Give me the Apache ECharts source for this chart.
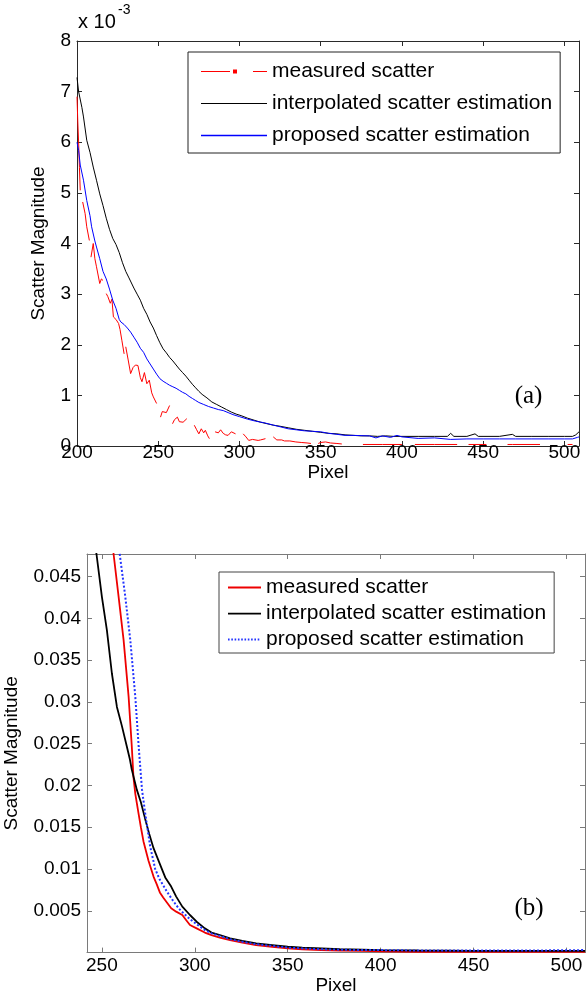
<!DOCTYPE html>
<html><head><meta charset="utf-8">
<script src="https://cdn.jsdelivr.net/npm/echarts@6.0.0/dist/echarts.min.js"></script>
<style>html,body{margin:0;padding:0;background:#fff}#c{width:588px;height:1006px}</style>
</head><body><div id="c"></div>
<script>
// ---------- Chart (a): values in units of 1e-3 ----------
const seriesNames = ['measured scatter', 'interpolated scatter estimation', 'proposed scatter estimation'];

const aMeasX = [200,200.5,201,201.5,202,202.7,203.5,205,206,207.6,208,208.6,210,211,212,214,215,216,217,218,219,220.5,221.5,222.4,224,225.6,226.5,227.6,229,229.5,230,231.5,233,234.5,236,237.5,239,240,241.5,243,244.5,246,247,249,250,251.4,252.5,253.7,255,257,258,258.8,260,261.8,263,265.3,266.5,267.6,270,272.2,273.5,275,276.5,278,279,280.5,281.5,283,285,287,288.4,290,291.5,293,295,297.6,300,302.3,304,305.7,308,311.5,313,316,318,320.8,323,326,327.7,331,334.7,338,341.6,344,346,348.5,350,353,356,360,363,370,376,388,400,404,408,420,434,437,441,452,462,465,468,485,500,502,505,510];
const aMeasY = [6.9,6.4,6.0,5.5,5.05,null,4.82,4.59,4.33,4.06,null,3.73,4.0,3.7,3.54,3.21,3.3,3.27,null,3.01,2.95,2.82,2.9,2.55,2.5,2.42,2.3,2.09,1.82,null,1.96,1.7,1.43,1.55,1.6,1.59,1.35,1.27,1.45,1.23,1.3,1.05,0.97,0.84,null,0.57,0.68,0.71,0.66,0.80,null,0.44,0.52,0.57,0.48,0.47,0.5,0.54,null,0.41,0.33,0.24,0.34,0.26,0.31,0.2,0.145,null,0.28,0.26,0.32,0.25,0.22,0.21,0.28,0.24,null,0.24,0.18,0.11,0.13,0.11,0.12,0.145,null,0.18,0.12,0.12,0.10,0.1,0.08,0.07,0.06,0.05,null,0.05,0.07,0.08,0.06,0.05,0.04,null,0.03,0.03,0.03,null,0.03,0.03,0.03,null,0.03,0.03,null,0.03,0.03,0.03,null,0.03,0.03];

const aInterpX = [200,201,203,204,206,208,210,212,214,216,218,220,222,224,226,228,230,232,233,235,237,239,241,243,245,247,249,251,253,255,257,259,261,263,265,267,269,271,273,275,277,280,283,286,289,292,295,298,301,305,309,313,317,321,325,330,335,340,345,350,355,360,365,370,375,380,385,390,395,400,410,420,428,430,432,440,445,447,460,468,470,480,490,500,505,507,509];
const aInterpY = [7.28,7.0,6.69,6.5,6.04,5.8,5.51,5.25,4.98,4.75,4.5,4.28,4.1,3.98,3.82,3.62,3.45,3.32,3.3,3.12,3.0,2.88,2.72,2.6,2.45,2.33,2.18,2.04,1.92,1.84,1.75,1.68,1.6,1.52,1.45,1.38,1.3,1.22,1.15,1.08,1.02,0.95,0.87,0.82,0.77,0.72,0.67,0.63,0.6,0.55,0.51,0.47,0.44,0.41,0.39,0.36,0.33,0.31,0.29,0.27,0.25,0.24,0.22,0.21,0.2,0.2,0.19,0.2,0.19,0.19,0.19,0.19,0.19,0.25,0.19,0.19,0.24,0.19,0.19,0.23,0.19,0.19,0.19,0.19,0.19,0.22,0.28];

const aPropX = [200,201,202,204,206,208,209,211,212,214,216,218,220,222,224,226,227,229,231,233,235,237,239,241,243,245,247,249,251,253,255,257,259,261,263,265,267,269,271,273,275,278,281,284,287,290,293,296,300,305,310,315,320,325,330,335,340,345,350,355,360,365,370,380,384,388,393,397,400,410,420,430,440,450,460,470,480,490,500,505,508,509];
const aPropY = [6.0,5.84,5.55,5.25,4.85,4.55,4.33,4.05,3.93,3.7,3.45,3.3,3.1,2.88,2.72,2.5,2.45,2.4,2.33,2.25,2.15,2.05,1.93,1.85,1.72,1.62,1.52,1.42,1.33,1.28,1.24,1.2,1.17,1.14,1.1,1.06,1.03,0.98,0.94,0.9,0.86,0.82,0.78,0.75,0.72,0.70,0.66,0.62,0.58,0.53,0.49,0.46,0.42,0.38,0.34,0.32,0.3,0.29,0.28,0.25,0.23,0.21,0.21,0.2,0.16,0.2,0.17,0.21,0.18,0.15,0.16,0.13,0.14,0.14,0.14,0.14,0.14,0.14,0.14,0.14,0.17,0.18];

// ---------- Chart (b) ----------
const bMeasX = [254.5,256.3,259,261.7,264.4,266.1,267,268,269.7,271,272.4,275.1,277.8,279.5,281.2,283,285,287.3,290,293.3,295,297.4,301,305.4,309,313.5,319,325.6,333,341.7,350,357.9,368,378,390,400,420,450,480,510];
const bMeasY = [0.052,0.0477,0.0426,0.0374,0.0306,0.0247,0.021,0.019,0.0167,0.015,0.0133,0.011,0.0091,0.0082,0.0072,0.0066,0.006,0.0053,0.0049,0.0045,0.004,0.0033,0.0029,0.0024,0.0021,0.0018,0.0015,0.0012,0.0009,0.0007,0.0005,0.0004,0.0003,0.00025,0.0002,0.00015,0.0001,0.0001,0.0001,0.0001];

const bInterpX = [244,247.1,250,252.7,255.4,258.1,260.8,263.4,265.1,266.1,268.8,271,273.3,275.5,277.8,281.4,284.1,287.3,290,293.3,297.4,301,305.4,309,313.5,319,325.6,333,341.7,350,357.9,368,378,390,400,420,450,480,510];
const bInterpY = [0.052,0.0477,0.0426,0.0386,0.0334,0.0294,0.0271,0.0247,0.0231,0.0219,0.0195,0.018,0.016,0.0142,0.0125,0.0105,0.009,0.0079,0.0067,0.0055,0.0045,0.0037,0.0029,0.0024,0.0021,0.0017,0.0014,0.0011,0.0009,0.0007,0.0006,0.0005,0.0004,0.00035,0.0003,0.00025,0.0002,0.0002,0.0002];

const bPropX = [258,259.6,262.6,265.3,268,269.8,271.6,273.3,276,278.7,281,285.3,288,291.3,294,297.4,301,305.4,309,313.5,319,325.6,333,341.7,350,357.9,368,378,390,400,420,450,480,510];
const bPropY = [0.052,0.0477,0.0426,0.0374,0.0306,0.0247,0.0195,0.0167,0.0127,0.01,0.0088,0.0072,0.0063,0.0053,0.0047,0.004,0.0034,0.0027,0.0023,0.002,0.0016,0.0013,0.001,0.0008,0.0006,0.0005,0.0004,0.00035,0.0003,0.0003,0.00025,0.00025,0.00025,0.0003];

// axis ranges and tick labels
const aXRange = [200, 509];
const aYRange = [0, 8];
const bXRange = [242, 510];
const bYRange = [0, 0.0477];
const aXTickValues = [200, 250, 300, 350, 400, 450, 500];
const aYTickValues = [0, 1, 2, 3, 4, 5, 6, 7, 8];
const bXTickValues = [250, 300, 350, 400, 450, 500];
const bYTickValues = [0.005, 0.01, 0.015, 0.02, 0.025, 0.03, 0.035, 0.04, 0.045];

const aColors = ['#ff0000', '#000000', '#0000ff'];
const bColors = ['#ee0000', '#000000', '#2233ff'];

function pairs(xs, ys) { return xs.map((x, i) => [x, ys[i]]); }

const FONT = '"Liberation Sans", Arial, Helvetica, sans-serif';
const topAxisColor = '#2a2a2a';
const botAxisColor = '#7a7a7a';

function fmt(v) { return String(+(+v).toFixed(4)); }

function mkX(grid, range, ticks, color, show, margin, gap) {
  return {
    type: 'value', gridIndex: grid, min: range[0], max: range[1],
    position: show ? 'bottom' : 'top',
    name: show ? 'Pixel' : '', nameLocation: 'middle', nameGap: gap,
    nameTextStyle: {fontFamily: FONT, fontSize: 19, color: '#000'},
    axisLine: {show: true, onZero: false, lineStyle: {color: color, width: 1}},
    axisTick: {show: true, inside: true, length: 5, lineStyle: {color: color}, customValues: ticks},
    axisLabel: {show: show, customValues: ticks, formatter: fmt, fontFamily: FONT, fontSize: 19, color: '#000', margin: margin},
    splitLine: {show: false}
  };
}
function mkY(grid, range, ticks, color, show, gap) {
  return {
    type: 'value', gridIndex: grid, min: range[0], max: range[1],
    position: show ? 'left' : 'right',
    name: show ? 'Scatter Magnitude' : '', nameLocation: 'middle', nameGap: gap,
    nameTextStyle: {fontFamily: FONT, fontSize: 19, color: '#000'},
    axisLine: {show: true, onZero: false, lineStyle: {color: color, width: 1}},
    axisTick: {show: true, inside: true, length: 5, lineStyle: {color: color}, customValues: ticks},
    axisLabel: {show: show, customValues: ticks, formatter: fmt, fontFamily: FONT, fontSize: 19, color: '#000', margin: 6},
    splitLine: {show: false}
  };
}

// legend icon shapes
const redIconA = 'path://M0,0 M66,14 M0,6.5 L29,6.5 L29,7.5 L0,7.5 Z M32,5 L36,5 L36,9 L32,9 Z M52,6.5 L66,6.5 L66,7.5 L52,7.5 Z';
const blackIconA = 'path://M0,0 M66,14 M0,6.4 L66,6.4 L66,7.6 L0,7.6 Z';
const blueIconA = 'path://M0,0 M66,14 M0,6.3 L66,6.3 L66,7.7 L0,7.7 Z';
const redIconB = 'path://M0,0 M33,14 M0,6.1 L33,6.1 L33,7.9 L0,7.9 Z';
const blackIconB = 'path://M0,0 M33,14 M0,6.15 L33,6.15 L33,7.95 L0,7.95 Z';
let dots = 'path://M0,0 M33,14';
for (let x = 0; x < 33; x += 3.3) { dots += ' M' + x.toFixed(1) + ',6 L' + (x + 1.6).toFixed(1) + ',6 L' + (x + 1.6).toFixed(1) + ',8 L' + x.toFixed(1) + ',8 Z'; }
const dotIconB = dots;

const aIds = seriesNames.map(n => 'A:' + n);
const bIds = seriesNames.map(n => 'B:' + n);
const stripPrefix = n => n.replace(/^[AB]:/, '');

function legendItem(name, icon, color) {
  return {
    name: name, icon: icon,
    itemStyle: {color: color, borderColor: color, borderWidth: 0, opacity: 1},
    lineStyle: {color: color, width: 0, opacity: 1},
    textStyle: {color: '#000'}
  };
}

function mkSeries(name, xs, ys, xi, yi, color, width, type) {
  return {
    name: name, type: 'line', xAxisIndex: xi, yAxisIndex: yi, data: pairs(xs, ys),
    symbol: 'none', color: color, itemStyle: {color: color},
    lineStyle: {color: color, width: width, type: type || 'solid'}, connectNulls: false
  };
}

const option = {
  animation: false,
  backgroundColor: '#fff',
  color: ['#ff0000', '#000000', '#0000ff', '#ee0000', '#000000', '#2233ff'],
  grid: [
    {left: 77, right: 9, top: 41, height: 405, outerBoundsMode: 'none', containLabel: false},
    {left: 87, right: 3, top: 554, height: 398.6, outerBoundsMode: 'none', containLabel: false}
  ],
  xAxis: [
    mkX(0, aXRange, aXTickValues, topAxisColor, true, -3, 16),
    mkX(0, aXRange, aXTickValues, topAxisColor, false, 0, 0),
    mkX(1, bXRange, bXTickValues, botAxisColor, true, 4, 23),
    mkX(1, bXRange, bXTickValues, botAxisColor, false, 0, 0)
  ],
  yAxis: [
    mkY(0, aYRange, aYTickValues, topAxisColor, true, 29),
    mkY(0, aYRange, aYTickValues, topAxisColor, false, 0),
    mkY(1, bYRange, bYTickValues, botAxisColor, true, 66),
    mkY(1, bYRange, bYTickValues, botAxisColor, false, 0)
  ],
  legend: [
    {
      data: [
        legendItem(aIds[0], redIconA, aColors[0]),
        legendItem(aIds[1], blackIconA, aColors[1]),
        legendItem(aIds[2], blueIconA, aColors[2])
      ],
      formatter: stripPrefix,
      orient: 'vertical', left: 188, top: 52, padding: [9, 8, 7, 13],
      itemWidth: 66, itemHeight: 14, itemGap: 11,
      borderColor: '#222', borderWidth: 1, backgroundColor: '#fff', borderRadius: 0,
      textStyle: {fontFamily: FONT, fontSize: 21, lineHeight: 21, color: '#000'},
      selectedMode: false
    },
    {
      data: [
        legendItem(bIds[0], redIconB, bColors[0]),
        legendItem(bIds[1], blackIconB, bColors[1]),
        legendItem(bIds[2], dotIconB, bColors[2])
      ],
      formatter: stripPrefix,
      orient: 'vertical', left: 219, top: 572, padding: [5, 8, 3, 9],
      itemWidth: 33, itemHeight: 14, itemGap: 5,
      borderColor: '#444', borderWidth: 1, backgroundColor: '#fff', borderRadius: 0,
      textStyle: {fontFamily: FONT, fontSize: 21, lineHeight: 21, color: '#000'},
      selectedMode: false
    }
  ],
  series: [
    mkSeries(aIds[0], aMeasX, aMeasY, 0, 0, aColors[0], 1),
    mkSeries(aIds[1], aInterpX, aInterpY, 0, 0, aColors[1], 1),
    mkSeries(aIds[2], aPropX, aPropY, 0, 0, aColors[2], 1),
    mkSeries(bIds[0], bMeasX, bMeasY, 2, 2, bColors[0], 1.8),
    mkSeries(bIds[1], bInterpX, bInterpY, 2, 2, bColors[1], 1.8),
    mkSeries(bIds[2], bPropX, bPropY, 2, 2, bColors[2], 2, 'dotted')
  ],
  graphic: [
    {type: 'text', style: {x: 78, y: 22.5, text: 'x 10', verticalAlign: 'middle', font: '20px ' + FONT, fill: '#000'}},
    {type: 'text', style: {x: 118, y: 10.5, text: '-3', verticalAlign: 'middle', font: '14px ' + FONT, fill: '#000'}},
    {type: 'text', style: {x: 528.5, y: 396, text: '(a)', align: 'center', verticalAlign: 'middle', font: '25px "Liberation Serif", "Times New Roman", serif', fill: '#000'}},
    {type: 'text', style: {x: 529, y: 908, text: '(b)', align: 'center', verticalAlign: 'middle', font: '25px "Liberation Serif", "Times New Roman", serif', fill: '#000'}}
  ]
};

const chart = echarts.init(document.getElementById('c'), null, {renderer: 'canvas'});
chart.setOption(option);
</script></body></html>
